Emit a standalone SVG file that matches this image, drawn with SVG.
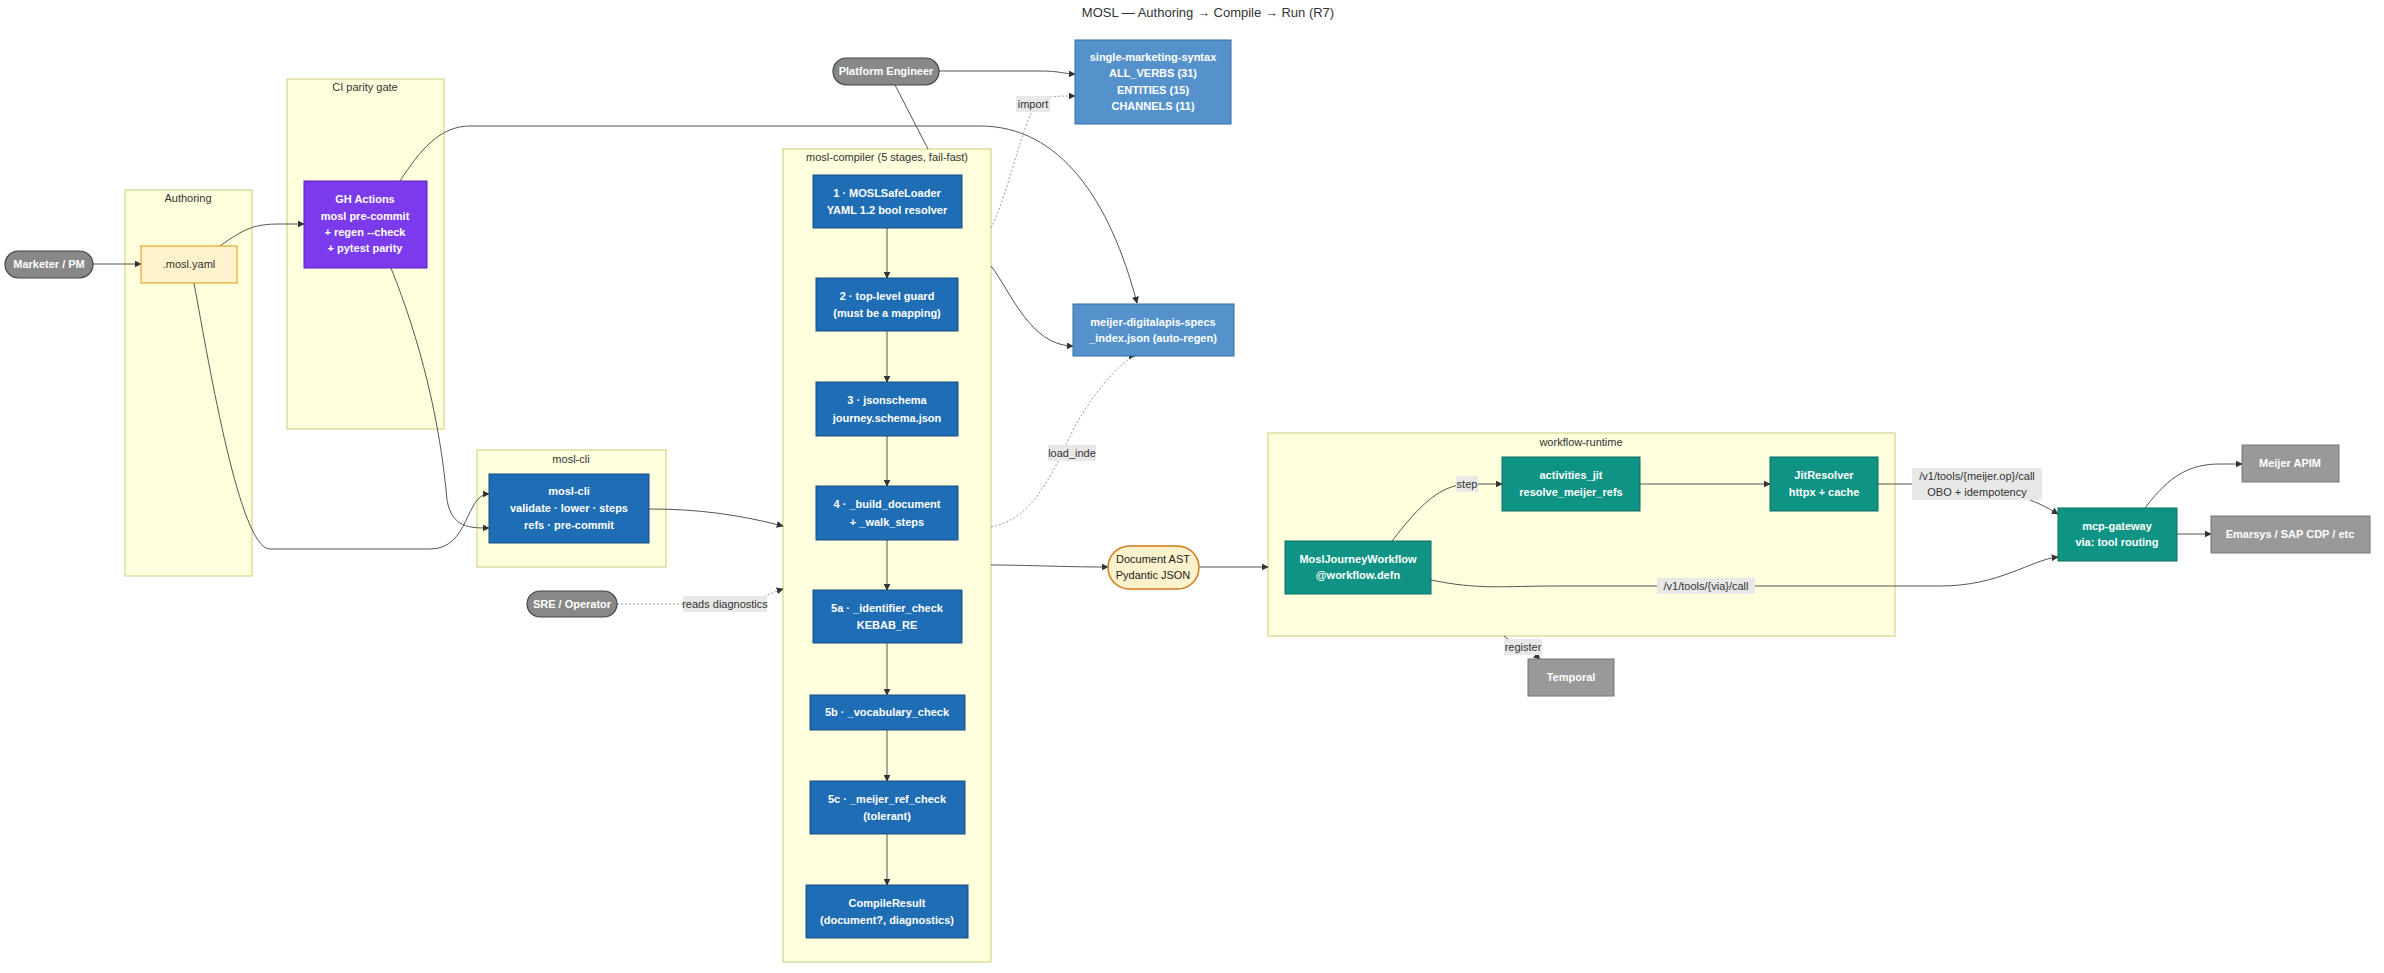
<svg xmlns="http://www.w3.org/2000/svg" width="2384" height="973" viewBox="0 0 2384 973">
<defs>
<marker id="ah" viewBox="0 0 10 10" refX="9" refY="5" markerWidth="7" markerHeight="7" orient="auto"><path d="M0,0L10,5L0,10z" fill="#333"/></marker>
<style>
text{font-family:"Liberation Sans",Arial,sans-serif;font-size:11px;text-anchor:middle;dominant-baseline:central}
.cl{fill:#ffffde;stroke:#d4d48a;stroke-width:1.2}
.ct{fill:#333;font-size:11px}
.st{fill:#1e6db5;stroke:#174f85}
.lb{fill:#5592cb;stroke:#2f6da8}
.tl{fill:#0e9384;stroke:#0a6e62}
.gr{fill:#999;stroke:#777}
.pill{fill:#888;stroke:#444;stroke-width:1.2}
.w{fill:#fff;font-weight:bold}
.e{fill:none;stroke:#555;stroke-width:1}
.d{stroke-dasharray:2,2;stroke:#999}
.elb{fill:#e8e8e8}
.et{fill:#333}
</style>
</defs>
<text x="1208" y="12" style="font-size:13px;fill:#333">MOSL — Authoring → Compile → Run (R7)</text>
<g id="clusters">
<rect class="cl" x="125" y="190" width="127" height="386"/><text class="ct" x="188" y="198">Authoring</text>
<rect class="cl" x="287" y="79" width="157" height="350"/><text class="ct" x="365" y="87">CI parity gate</text>
<rect class="cl" x="477" y="450" width="189" height="117"/><text class="ct" x="571" y="459">mosl-cli</text>
<rect class="cl" x="783" y="149" width="208" height="813"/><text class="ct" x="887" y="157">mosl-compiler (5 stages, fail-fast)</text>
<rect class="cl" x="1268" y="433" width="627" height="203"/><text class="ct" x="1581" y="442">workflow-runtime</text>
</g>
<g id="connectors">
<path class="e" d="M93,264 L141,264" marker-end="url(#ah)"/>
<path class="e" d="M220,246 C245,228 255,224 280,224 L304,224" marker-end="url(#ah)"/>
<path class="e" d="M194,283 C210,370 240,549 270,549 L430,549 C470,549 465,494 489,494" marker-end="url(#ah)"/>
<path class="e" d="M391,268 C420,340 440,420 447,500 C452,528 470,528 489,528" marker-end="url(#ah)"/>
<path class="e" d="M400,181 C420,150 440,126 470,126 L980,126 C1060,126 1110,200 1137,303" marker-end="url(#ah)"/>
<path class="e" d="M649,509 C700,509 740,515 783,526" marker-end="url(#ah)"/>
<path class="e" d="M939,71 L1040,71 C1060,71 1065,74 1075,74" marker-end="url(#ah)"/>
<path class="e" d="M895,85 L928,149"/>
<path class="e d" d="M991,228 C1010,190 1025,110 1040,100 C1050,96 1060,96 1075,96" marker-end="url(#ah)"/>
<path class="e" d="M991,266 C1010,290 1030,346 1073,346" marker-end="url(#ah)"/>
<path class="e d" d="M991,527 C1030,520 1050,480 1073,430 C1100,380 1130,356 1135,356" marker-end="url(#ah)"/>
<path class="e" d="M991,565 C1030,565 1060,567 1108,567" marker-end="url(#ah)"/>
<path class="e d" d="M617,604 L740,604 C760,600 770,593 783,589" marker-end="url(#ah)"/>
<path class="e" d="M887,228 L887,278" marker-end="url(#ah)"/>
<path class="e" d="M887,331 L887,382" marker-end="url(#ah)"/>
<path class="e" d="M887,436 L887,486" marker-end="url(#ah)"/>
<path class="e" d="M887,540 L887,590" marker-end="url(#ah)"/>
<path class="e" d="M887,643 L887,695" marker-end="url(#ah)"/>
<path class="e" d="M887,730 L887,781" marker-end="url(#ah)"/>
<path class="e" d="M887,834 L887,885" marker-end="url(#ah)"/>
<path class="e" d="M1199,567 L1268,567" marker-end="url(#ah)"/>
<path class="e" d="M1392,541 C1420,505 1440,484 1470,484 L1502,484" marker-end="url(#ah)"/>
<path class="e" d="M1640,484 L1770,484" marker-end="url(#ah)"/>
<path class="e" d="M1878,484 L1960,484 C2010,490 2035,500 2058,514" marker-end="url(#ah)"/>
<path class="e" d="M1431,580 C1480,590 1500,586 1560,586 L1940,586 C2000,586 2030,560 2058,557" marker-end="url(#ah)"/>
<path class="e" d="M2145,508 C2170,475 2190,464 2220,464 L2242,464" marker-end="url(#ah)"/>
<path class="e" d="M2177,534 L2211,534" marker-end="url(#ah)"/>
<path class="e" d="M1504,636 C1515,645 1530,650 1540,659" marker-end="url(#ah)"/>
</g>
<g id="edge-labels">
<rect class="elb" x="1016" y="96" width="34" height="16"/><text class="et" x="1033" y="104">import</text>
<rect class="elb" x="1048" y="445" width="48" height="16"/><text class="et" x="1072" y="453">load_inde</text>
<rect class="elb" x="683" y="596" width="84" height="16"/><text class="et" x="725" y="604">reads diagnostics</text>
<rect class="elb" x="1456" y="476" width="22" height="16"/><text class="et" x="1467" y="484">step</text>
<rect class="elb" x="1657" y="578" width="98" height="16"/><text class="et" x="1706" y="586">/v1/tools/{via}/call</text>
<rect class="elb" x="1504" y="639" width="38" height="16"/><text class="et" x="1523" y="647">register</text>
<rect class="elb" x="1912" y="468" width="130" height="32"/><text class="et" x="1977" y="476">/v1/tools/{meijer.op}/call</text><text class="et" x="1977" y="492">OBO + idempotency</text>
</g>
<g id="marketer"><rect class="pill" x="5" y="251" width="88" height="27" rx="13.5"/><text class="w" x="49" y="264">Marketer / PM</text></g>
<g id="mosl-yaml"><rect x="141" y="246" width="96" height="37" fill="#fff2cc" stroke="#d79b00"/><text x="189" y="264" style="fill:#333">.mosl.yaml</text></g>
<g id="gh-actions"><rect x="304" y="181" width="123" height="87" fill="#7c3aed" stroke="#5b21b6"/><text class="w" x="365" y="199">GH Actions</text><text class="w" x="365" y="216">mosl pre-commit</text><text class="w" x="365" y="232">+ regen --check</text><text class="w" x="365" y="248">+ pytest parity</text></g>
<g id="mosl-cli-node"><rect class="st" x="489" y="474" width="160" height="69"/><text class="w" x="569" y="491">mosl-cli</text><text class="w" x="569" y="508">validate · lower · steps</text><text class="w" x="569" y="525">refs · pre-commit</text></g>
<g id="sre"><rect class="pill" x="527" y="591" width="90" height="26" rx="13"/><text class="w" x="572" y="604">SRE / Operator</text></g>
<g id="platform"><rect class="pill" x="833" y="58" width="106" height="27" rx="13.5"/><text class="w" x="886" y="71">Platform Engineer</text></g>
<g id="sms"><rect class="lb" x="1075" y="40" width="156" height="84"/><text class="w" x="1153" y="57">single-marketing-syntax</text><text class="w" x="1153" y="73">ALL_VERBS (31)</text><text class="w" x="1153" y="90">ENTITIES (15)</text><text class="w" x="1153" y="106">CHANNELS (11)</text></g>
<g id="specs"><rect class="lb" x="1073" y="304" width="161" height="52"/><text class="w" x="1153" y="322">meijer-digitalapis-specs</text><text class="w" x="1153" y="338">_index.json (auto-regen)</text></g>
<g id="s1"><rect class="st" x="813" y="175" width="149" height="53"/><text class="w" x="887" y="193">1 · MOSLSafeLoader</text><text class="w" x="887" y="210">YAML 1.2 bool resolver</text></g>
<g id="s2"><rect class="st" x="816" y="278" width="142" height="53"/><text class="w" x="887" y="296">2 · top-level guard</text><text class="w" x="887" y="313">(must be a mapping)</text></g>
<g id="s3"><rect class="st" x="816" y="382" width="142" height="54"/><text class="w" x="887" y="400">3 · jsonschema</text><text class="w" x="887" y="418">journey.schema.json</text></g>
<g id="s4"><rect class="st" x="816" y="486" width="142" height="54"/><text class="w" x="887" y="504">4 · _build_document</text><text class="w" x="887" y="522">+ _walk_steps</text></g>
<g id="s5a"><rect class="st" x="813" y="590" width="149" height="53"/><text class="w" x="887" y="608">5a · _identifier_check</text><text class="w" x="887" y="625">KEBAB_RE</text></g>
<g id="s5b"><rect class="st" x="810" y="695" width="155" height="35"/><text class="w" x="887" y="712">5b · _vocabulary_check</text></g>
<g id="s5c"><rect class="st" x="810" y="781" width="155" height="53"/><text class="w" x="887" y="799">5c · _meijer_ref_check</text><text class="w" x="887" y="816">(tolerant)</text></g>
<g id="result"><rect class="st" x="806" y="885" width="162" height="53"/><text class="w" x="887" y="903">CompileResult</text><text class="w" x="887" y="920">(document?, diagnostics)</text></g>
<g id="doc-ast"><rect x="1108" y="546" width="91" height="43" rx="21.5" fill="#fff2cc" stroke="#d07a1a" stroke-width="1.5"/><text x="1153" y="559" style="fill:#222">Document AST</text><text x="1153" y="575" style="fill:#222">Pydantic JSON</text></g>
<g id="wf"><rect class="tl" x="1285" y="541" width="146" height="53"/><text class="w" x="1358" y="559">MoslJourneyWorkflow</text><text class="w" x="1358" y="575">@workflow.defn</text></g>
<g id="jit"><rect class="tl" x="1502" y="457" width="138" height="54"/><text class="w" x="1571" y="475">activities_jit</text><text class="w" x="1571" y="492">resolve_meijer_refs</text></g>
<g id="resolver"><rect class="tl" x="1770" y="457" width="108" height="54"/><text class="w" x="1824" y="475">JitResolver</text><text class="w" x="1824" y="492">httpx + cache</text></g>
<g id="gateway"><rect class="tl" x="2058" y="508" width="119" height="53"/><text class="w" x="2117" y="526">mcp-gateway</text><text class="w" x="2117" y="542">via: tool routing</text></g>
<g id="apim"><rect class="gr" x="2242" y="445" width="97" height="37"/><text class="w" x="2290" y="463">Meijer APIM</text></g>
<g id="emarsys"><rect class="gr" x="2211" y="516" width="159" height="37"/><text class="w" x="2290" y="534">Emarsys / SAP CDP / etc</text></g>
<g id="temporal"><rect class="gr" x="1528" y="659" width="86" height="37"/><text class="w" x="1571" y="677">Temporal</text></g>
</svg>
